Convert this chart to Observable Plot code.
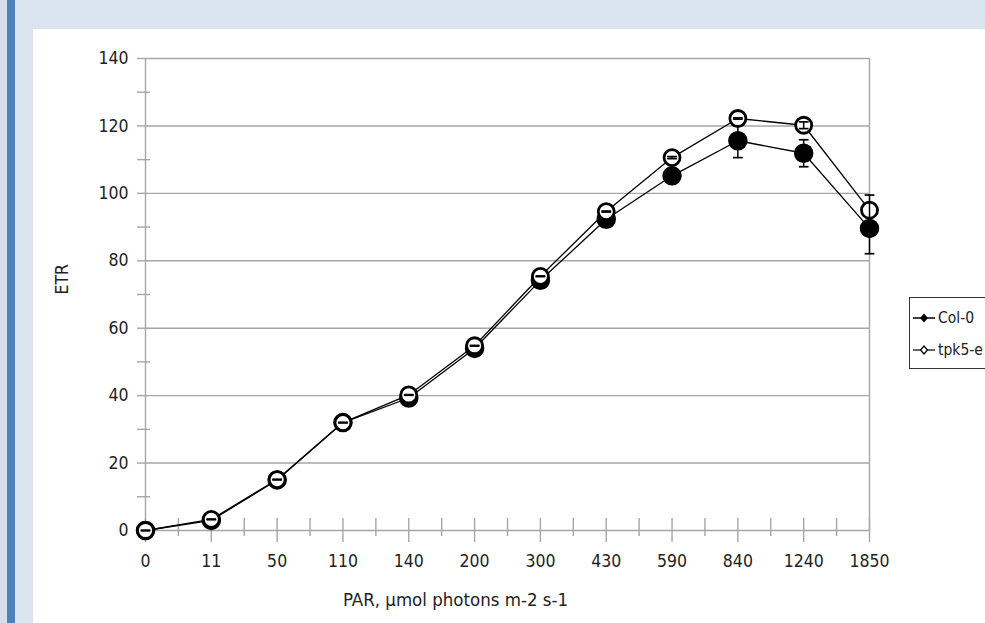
<!DOCTYPE html>
<html><head><meta charset="utf-8">
<script src="https://cdn.jsdelivr.net/npm/d3@7"></script>
<script src="https://cdn.jsdelivr.net/npm/@observablehq/plot@0.6"></script>
<style>
html,body{margin:0;padding:0;width:985px;height:623px;overflow:hidden;background:#dbe5f1;}
#gray{position:absolute;left:0;top:0;width:7px;height:623px;background:#d9dfe9;}
#bar{position:absolute;left:7px;top:0;width:8px;height:623px;background:#4f81bd;}
#chart{position:absolute;left:33px;top:29px;width:952px;height:594px;background:#fff;}
#legend{position:absolute;left:909px;top:297px;width:110px;height:70px;border:1px solid #333;background:#fff;
  font-family:"DejaVu Sans Condensed","Liberation Sans Narrow",sans-serif;font-stretch:condensed;font-size:15.5px;color:#222;}
.item{position:absolute;left:3px;height:20px;display:flex;align-items:center;white-space:nowrap;}
.item svg{margin-right:3px;}
svg text{font-stretch:condensed;}
</style></head>
<body>
<div id="gray"></div><div id="bar"></div>
<div id="chart"></div>
<div id="legend">
  <div class="item" style="top:10px"><svg width="22" height="12"><line x1="0" y1="6" x2="22" y2="6" stroke="#000" stroke-width="1.5"/><path d="M11,1.5L15,6L11,10.5L7,6Z" fill="#000"/></svg><span id="lg0"></span></div>
  <div class="item" style="top:42px"><svg width="22" height="12"><line x1="0" y1="6" x2="22" y2="6" stroke="#000" stroke-width="1.2"/><path d="M11,2L14.5,6L11,10L7.5,6Z" fill="#fff" stroke="#000" stroke-width="1.2"/></svg><span id="lg1"></span></div>
</div>
<script>
const cats = ["0","11","50","110","140","200","300","430","590","840","1240","1850"];
const col0 = [0, 3, 15, 32, 39.3, 54, 74.2, 92.3, 105.2, 115.6, 111.9, 89.6];
const col0Err = [0.5, 0.5, 0.5, 0.6, 0.8, 1, 1.2, 1.5, 1.8, 5, 4, 7.5];
const tpk5 = [0, 3.3, 15.1, 32, 40.2, 54.8, 75.4, 94.6, 110.6, 122.2, 120.2, 95];
const tpk5Err = [0.1, 0.1, 0.1, 0.1, 0.1, 0.1, 0.1, 0.15, 0.3, 0.2, 1, 4.5];
const seriesNames = ["Col-0", "tpk5-e"];
const yMajor = [0, 20, 40, 60, 80, 100, 120, 140];
const yMinor = [10, 30, 50, 70, 90, 110, 130];
const xTitle = "PAR, \u00b5mol photons m-2 s-1";
const yTitle = "ETR";

document.getElementById("lg0").textContent = seriesNames[0];
document.getElementById("lg1").textContent = seriesNames[1];

const idx = cats.map((c, i) => i);
const minorX = idx.slice(0, -1).map(i => i + 0.5);
const rows0 = idx.map(i => ({i, v: col0[i], e: col0Err[i]}));
const rows1 = idx.map(i => ({i, v: tpk5[i], e: tpk5Err[i]}));
const capSymbol = {draw(ctx, size) { const w = Math.sqrt(size) / 2; ctx.moveTo(-w, 0); ctx.lineTo(w, 0); }};
const font = '"DejaVu Sans Condensed","Liberation Sans Narrow",sans-serif';
const grid = "#a6a6a6";

const caps = (rows) => [
  Plot.ruleX(rows, {x: "i", y1: d => d.v - d.e, y2: d => d.v + d.e, stroke: "#000", strokeWidth: 1.5}),
  Plot.dot(rows, {x: "i", y: d => d.v - d.e, symbol: capSymbol, r: 5.5, stroke: "#000", strokeWidth: 1.7, fill: "none"}),
  Plot.dot(rows, {x: "i", y: d => d.v + d.e, symbol: capSymbol, r: 5.5, stroke: "#000", strokeWidth: 1.7, fill: "none"})
];

const plot = Plot.plot({
  width: 952, height: 594,
  marginLeft: 112, marginRight: 116, marginTop: 29, marginBottom: 93,
  style: {background: "#fff", fontFamily: font, fontSize: "17.5px", color: "#222"},
  x: {type: "linear", domain: [0, 11], axis: null},
  y: {domain: [0, 140], axis: null},
  marks: [
    Plot.gridY(yMajor, {stroke: grid, strokeOpacity: 1, strokeWidth: 1.4}),
    Plot.axisY(yMajor, {tickSize: 8, tickPadding: 9, label: null, stroke: grid, strokeWidth: 1.4, fill: "#222"}),
    Plot.axisY(yMinor, {tickSize: 13, dx: 5, tickFormat: () => "", label: null, stroke: grid, strokeWidth: 1.4}),
    Plot.ruleX([0, 11], {y1: 0, y2: 140, stroke: grid, strokeWidth: 1.4}),
    Plot.axisX(idx, {tickSize: 24, dy: -12, tickFormat: () => "", label: null, stroke: grid, strokeWidth: 1.4}),
    Plot.axisX(minorX, {tickSize: 18, dy: -12, tickFormat: () => "", label: null, stroke: grid, strokeWidth: 1.4}),
    Plot.axisX(idx, {tickSize: 0, tickPadding: 24, tickFormat: i => cats[i], label: null, fill: "#222"}),
    Plot.text([xTitle], {frameAnchor: "bottom", dy: 75, dx: -52, fill: "#222", fontSize: 18.5}),
    Plot.text([yTitle], {frameAnchor: "left", rotate: -90, dx: -83, fill: "#222"}),
    Plot.line(rows0, {x: "i", y: "v", stroke: "#000", strokeWidth: 1.3}),
    Plot.line(rows1, {x: "i", y: "v", stroke: "#000", strokeWidth: 1.3}),
    Plot.dot(rows0, {x: "i", y: "v", r: 9, fill: "#000", stroke: "#000"}),
    ...caps(rows0),
    Plot.dot(rows1, {x: "i", y: "v", r: 8, fill: "#fff", stroke: "#000", strokeWidth: 2.8}),
    ...caps(rows1)
  ]
});
document.getElementById("chart").appendChild(plot);
</script>
</body></html>
